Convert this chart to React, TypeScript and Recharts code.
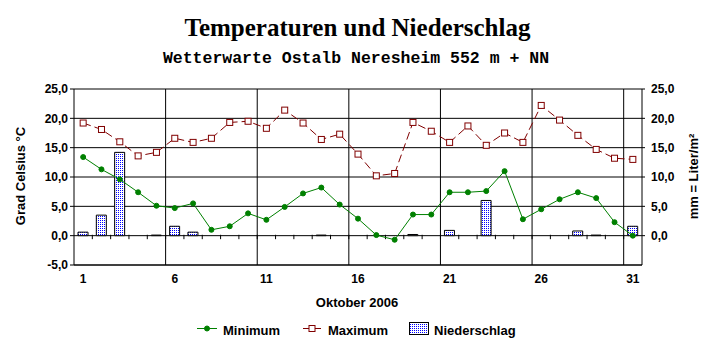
import React from 'react';
import {
  ComposedChart, Line, Bar, XAxis, YAxis, CartesianGrid, ReferenceLine,
} from 'recharts';

const days = [1, 2, 3, 4, 5, 6, 7, 8, 9, 10, 11, 12, 13, 14, 15, 16, 17, 18, 19, 20, 21, 22, 23, 24, 25, 26, 27, 28, 29, 30, 31];
const minTemp = [13.4, 11.3, 9.6, 7.4, 5.1, 4.7, 5.5, 1.0, 1.6, 3.8, 2.7, 4.9, 7.2, 8.2, 5.3, 2.9, 0.1, -0.7, 3.6, 3.6, 7.4, 7.4, 7.6, 11.0, 2.8, 4.5, 6.2, 7.4, 6.4, 2.3, 0.0];
const maxTemp = [19.2, 18.1, 16.0, 13.6, 14.2, 16.6, 15.9, 16.6, 19.3, 19.5, 18.3, 21.4, 19.2, 16.4, 17.3, 13.9, 10.2, 10.6, 19.3, 17.8, 15.9, 18.7, 15.4, 17.5, 15.9, 22.2, 19.7, 17.1, 14.7, 13.2, 13.0];
const precip = [0.6, 3.5, 14.2, 0, 0.1, 1.6, 0.6, 0, 0, 0, 0, 0, 0, 0.1, 0, 0, 0, 0, 0.2, 0, 0.9, 0, 6.0, 0, 0, 0, 0, 0.8, 0.1, 0, 1.6];

const xTicks = [1, 6, 11, 16, 21, 26, 31];
const leftTicks = [-5, 0, 5, 10, 15, 20, 25];
const rightTicks = [0, 5, 10, 15, 20, 25];
const gridBoundaries = [5.5, 10.5, 15.5, 20.5, 25.5, 30.5];
const minorBoundaries = [1.5, 2.5, 3.5, 4.5, 5.5, 6.5, 7.5, 8.5, 9.5, 10.5, 11.5, 12.5, 13.5, 14.5, 15.5, 16.5, 17.5, 18.5, 19.5, 20.5, 21.5, 22.5, 23.5, 24.5, 25.5, 26.5, 27.5, 28.5, 29.5, 30.5];

const data = days.map((d, i) => ({ day: d, min: minTemp[i], max: maxTemp[i], rain: precip[i] }));

const SANS = '"Liberation Sans", Arial, sans-serif';
const tickStyle = { fontFamily: SANS, fontWeight: 700, fontSize: 12, fill: '#000' };
const fmt = (v: number) => v.toFixed(1).replace('.', ',');

const MaxDot = (props: any) => {
  const { cx, cy, index } = props;
  if (cx == null || cy == null) return <g key={index} />;
  return <rect key={index} x={cx - 3} y={cy - 3} width={6} height={6} fill="#fff" stroke="#800000" strokeWidth={1} />;
};

export default function App() {
  return (
    <div style={{ position: 'absolute', left: 0, top: 0, width: 715, height: 352, background: '#fff' }}>
      <ComposedChart width={715} height={352} data={data} margin={{ top: 89, right: 0, bottom: 47, left: 0 }}>
        <defs>
          <pattern id="dots" width="2" height="2" patternUnits="userSpaceOnUse">
            <rect x="0" y="0" width="2" height="2" fill="#fff" />
            <rect x="0" y="0" width="1" height="1" fill="#0000ff" />
          </pattern>
        </defs>
        <CartesianGrid vertical={false} stroke="#000" strokeWidth={1} />
        <XAxis dataKey="day" ticks={xTicks} interval={0} tickLine={false} tickSize={0} tickMargin={9}
          axisLine={{ stroke: '#000' }} tick={tickStyle} height={40} />
        <XAxis xAxisId="n" dataKey="day" type="number" domain={[0.5, 31.5]} allowDataOverflow hide />
        <YAxis domain={[-5, 25]} ticks={leftTicks} width={74} tickFormatter={fmt} tick={tickStyle}
          tickSize={4} tickMargin={2} axisLine={{ stroke: '#000' }} tickLine={{ stroke: '#000' }} interval={0} />
        <YAxis yAxisId="r" orientation="right" domain={[-5, 25]} ticks={rightTicks} width={73} tickFormatter={fmt}
          tick={tickStyle} tickSize={3} tickMargin={6} axisLine={{ stroke: '#000' }} tickLine={{ stroke: '#000' }} interval={0} />
        {gridBoundaries.map((b) => (
          <ReferenceLine key={'g' + b} xAxisId="n" x={b} stroke="#000" strokeWidth={1} />
        ))}
        {minorBoundaries.map((b) => (
          <ReferenceLine key={'m' + b} xAxisId="n" segment={[{ x: b, y: 0.15 }, { x: b, y: -0.6 }]} stroke="#000" strokeWidth={1} />
        ))}
        <Bar dataKey="rain" yAxisId="r" barSize={10} fill="url(#dots)" stroke="#000" strokeWidth={1} isAnimationActive={false} />
        <Line dataKey="max" stroke="#800000" strokeWidth={1} strokeDasharray="8 4" dot={MaxDot} activeDot={false} isAnimationActive={false} />
        <Line dataKey="min" stroke="#008000" strokeWidth={1} dot={{ r: 2.5, fill: '#008000', stroke: '#008000' }} activeDot={false} isAnimationActive={false} />
      </ComposedChart>
      <svg width={715} height={352} style={{ position: 'absolute', left: 0, top: 0, pointerEvents: 'none' }}>
        <text x={357.5} y={36} textAnchor="middle" fontFamily='"Liberation Serif", "Times New Roman", serif' fontWeight={700} fontSize={25} fill="#000">Temperaturen und Niederschlag</text>
        <text x={356} y={63} textAnchor="middle" fontFamily='"Liberation Mono", "Courier New", monospace' fontWeight={700} fontSize={16.5} fill="#000">Wetterwarte Ostalb Neresheim 552 m + NN</text>
        <text x={20.5} y={176} transform="rotate(-90 20.5 176)" textAnchor="middle" dominantBaseline="central" fontFamily={SANS} fontWeight={700} fontSize={13} fill="#000">Grad Celsius °C</text>
        <text x={693} y={176.5} transform="rotate(-90 693 176.5)" textAnchor="middle" dominantBaseline="central" fontFamily={SANS} fontWeight={700} fontSize={13} fill="#000">mm = Liter/m²</text>
        <text x={357} y={307} textAnchor="middle" fontFamily={SANS} fontWeight={700} fontSize={13} fill="#000">Oktober 2006</text>
        <line x1={197} y1={328.5} x2={217} y2={328.5} stroke="#008000" strokeWidth={1} />
        <circle cx={207} cy={328.5} r={2.5} fill="#008000" stroke="#008000" />
        <text x={223} y={335} fontFamily={SANS} fontWeight={700} fontSize={13} fill="#000">Minimum</text>
        <line x1={303} y1={328.5} x2={321} y2={328.5} stroke="#800000" strokeWidth={1} />
        <rect x={309} y={325.5} width={6} height={6} fill="#fff" stroke="#800000" />
        <text x={328} y={335} fontFamily={SANS} fontWeight={700} fontSize={13} fill="#000">Maximum</text>
        <rect x={409.5} y={322.5} width={19} height={12} fill="url(#dots)" stroke="#000" />
        <text x={434} y={335} fontFamily={SANS} fontWeight={700} fontSize={13} fill="#000">Niederschlag</text>
      </svg>
    </div>
  );
}
